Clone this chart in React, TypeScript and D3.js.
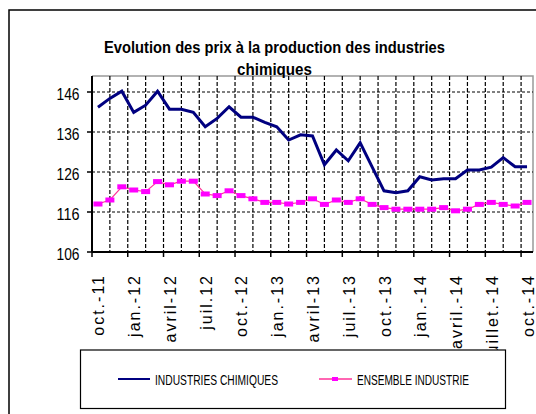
import React, { useRef, useEffect } from 'react'
import * as d3 from 'd3'

// tick labels (one every 3 months, oct-11 .. oct-14)
const tickLabels = [
	'oct.-11', 'jan.-12', 'avril-12', 'juil.12', 'oct.-12', 'jan.-13', 'avril-13',
	'juil.-13', 'oct.-13', 'jan.-14', 'avril.-14', 'juillet.-14', 'oct.-14',
]

// indices mensuels
const chimie = [
	142.2, 144.4, 146.2, 140.9, 142.7, 146.2, 141.7, 141.7, 140.9, 137.3, 139.4, 142.3,
	139.7, 139.7, 138.4, 137.3, 134.0, 135.3, 135.0, 127.8, 131.5, 128.8, 133.3, 127.3,
	121.3, 120.8, 121.3, 124.8, 124.0, 124.3, 124.3, 126.5, 126.5, 127.2, 129.6, 127.3, 127.3,
]
const ensemble = [
	118.0, 119.0, 122.3, 121.5, 121.1, 123.6, 122.8, 123.7, 123.7, 120.5, 120.1, 121.3,
	120.1, 119.3, 118.4, 118.4, 118.0, 118.4, 119.3, 117.9, 119.0, 118.4, 119.3, 117.9,
	117.1, 116.7, 116.7, 116.7, 116.7, 117.1, 116.3, 116.7, 117.9, 118.4, 117.9, 117.5, 118.4,
]
const yTicks = [106, 116, 126, 136, 146]

const Chart = () => {
	const svgRef = useRef<SVGSVGElement>(null)

	useEffect(() => {
		const svg = d3.select(svgRef.current)
		svg.selectAll('*').remove()

		const width = 536
		const height = 414
		const margin = { top: 76, right: 3, bottom: 162, left: 92 }
		const font = "'Liberation Sans', Arial, sans-serif"
		const n = chimie.length

		svg.attr('width', width).attr('height', height)

		// cadre extérieur
		svg.append('rect')
			.attr('x', 9).attr('y', 10).attr('width', 560).attr('height', 440)
			.attr('fill', 'white').attr('stroke', 'black').attr('stroke-width', 1.5)

		const x = d3.scaleLinear().domain([0, n]).range([margin.left, width - margin.right])
		const y = d3.scaleLinear().domain([106, 150]).range([height - margin.bottom, margin.top])

		// bord de la zone de tracé
		svg.append('path')
			.attr('d', `M${x(0)},${y(150)}H${x(n)}V${y(106)}`)
			.attr('fill', 'none').attr('stroke', '#999').attr('stroke-width', 1.5)

		// grille horizontale
		svg.selectAll('.hgrid')
			.data(yTicks.slice(1))
			.enter()
			.append('line')
			.attr('x1', x(0)).attr('x2', x(n))
			.attr('y1', d => y(d)).attr('y2', d => y(d))
			.attr('stroke', 'black').attr('stroke-width', 1.2).attr('stroke-dasharray', '3,2')

		// grille verticale (tous les 1,5 mois)
		const vg = d3.range(1, 25).map(k => k * 1.5)
		svg.selectAll('.vgrid')
			.data(vg)
			.enter()
			.append('line')
			.attr('x1', d => x(d)).attr('x2', d => x(d))
			.attr('y1', y(150)).attr('y2', y(106))
			.attr('stroke', 'black').attr('stroke-width', 1.2).attr('stroke-dasharray', '4,2')

		// axes
		svg.append('line')
			.attr('x1', x(0)).attr('x2', x(n)).attr('y1', y(106)).attr('y2', y(106))
			.attr('stroke', 'black').attr('stroke-width', 2)
		svg.append('line')
			.attr('x1', x(0)).attr('x2', x(0)).attr('y1', y(150)).attr('y2', y(106))
			.attr('stroke', 'black').attr('stroke-width', 2)

		// graduations Y
		svg.selectAll('.ytick')
			.data(yTicks)
			.enter()
			.append('line')
			.attr('x1', x(0) - 5).attr('x2', x(0))
			.attr('y1', d => y(d)).attr('y2', d => y(d))
			.attr('stroke', 'black').attr('stroke-width', 1.5)
		svg.selectAll('.ylab')
			.data(yTicks)
			.enter()
			.append('text')
			.attr('x', 79.5)
			.attr('y', d => y(d) + 8)
			.attr('text-anchor', 'end')
			.attr('font-family', font).attr('font-size', 16)
			.attr('textLength', 23).attr('lengthAdjust', 'spacingAndGlyphs')
			.text(d => d)

		// graduations X (tous les 3 mois)
		const xt = d3.range(0, n, 3)
		svg.selectAll('.xtick')
			.data(xt)
			.enter()
			.append('line')
			.attr('x1', d => x(d)).attr('x2', d => x(d))
			.attr('y1', y(106)).attr('y2', y(106) + 5)
			.attr('stroke', 'black').attr('stroke-width', 1.5)

		svg.selectAll('.xlab')
			.data(tickLabels)
			.enter()
			.append('text')
			.attr('transform', (d, i) => `translate(${x(i * 3 + 0.5) + 6.5},${y(106) + 22}) rotate(-90)`)
			.attr('text-anchor', 'end')
			.attr('font-family', font).attr('font-size', 16)
			.attr('letter-spacing', 2)
			.text(d => d)

		// séries
		const line = d3.line<number>().x((d, i) => x(i + 0.5)).y(d => y(d))

		svg.append('path')
			.datum(ensemble)
			.attr('d', line)
			.attr('fill', 'none').attr('stroke', '#ff3399').attr('stroke-width', 1.2)
		svg.selectAll('.mk')
			.data(ensemble)
			.enter()
			.append('rect')
			.attr('x', (d, i) => x(i + 0.5) - 4.5)
			.attr('y', d => y(d) - 2.5)
			.attr('width', 9).attr('height', 5)
			.attr('fill', '#ff00ff')

		svg.append('path')
			.datum(chimie)
			.attr('d', line)
			.attr('fill', 'none').attr('stroke', '#000080').attr('stroke-width', 3)
			.attr('stroke-linejoin', 'miter')

		// titre
		const title = svg.append('g').attr('font-family', font).attr('font-weight', 'bold').attr('font-size', 17)
		title.append('text')
			.attr('x', 274.5).attr('y', 52.5).attr('text-anchor', 'middle')
			.attr('textLength', 341).attr('lengthAdjust', 'spacingAndGlyphs')
			.text('Evolution des prix à la production des industries')
		title.append('text')
			.attr('x', 274.5).attr('y', 75).attr('text-anchor', 'middle')
			.attr('textLength', 75).attr('lengthAdjust', 'spacingAndGlyphs')
			.text('chimiques')

		// légende
		const lg = svg.append('g')
		lg.append('rect')
			.attr('x', 80.5).attr('y', 350).attr('width', 425).attr('height', 58.5)
			.attr('fill', 'white').attr('stroke', 'black').attr('stroke-width', 1.2)
		lg.append('line')
			.attr('x1', 118).attr('x2', 150).attr('y1', 379).attr('y2', 379)
			.attr('stroke', '#000080').attr('stroke-width', 2)
		lg.append('text')
			.attr('x', 155).attr('y', 385)
			.attr('font-family', font).attr('font-size', 14)
			.attr('textLength', 123).attr('lengthAdjust', 'spacingAndGlyphs')
			.text('INDUSTRIES CHIMIQUES')
		lg.append('line')
			.attr('x1', 319).attr('x2', 352).attr('y1', 379).attr('y2', 379)
			.attr('stroke', '#ff3399').attr('stroke-width', 1.5)
		lg.append('rect')
			.attr('x', 332).attr('y', 377).attr('width', 6).attr('height', 4)
			.attr('fill', '#ff00ff')
		lg.append('text')
			.attr('x', 357).attr('y', 385)
			.attr('font-family', font).attr('font-size', 14)
			.attr('textLength', 112).attr('lengthAdjust', 'spacingAndGlyphs')
			.text('ENSEMBLE INDUSTRIE')
	}, [])

	return <svg ref={svgRef} style={{ position: 'fixed', left: 0, top: 0 }}></svg>
}

export default function App() {
	return <Chart />
}
